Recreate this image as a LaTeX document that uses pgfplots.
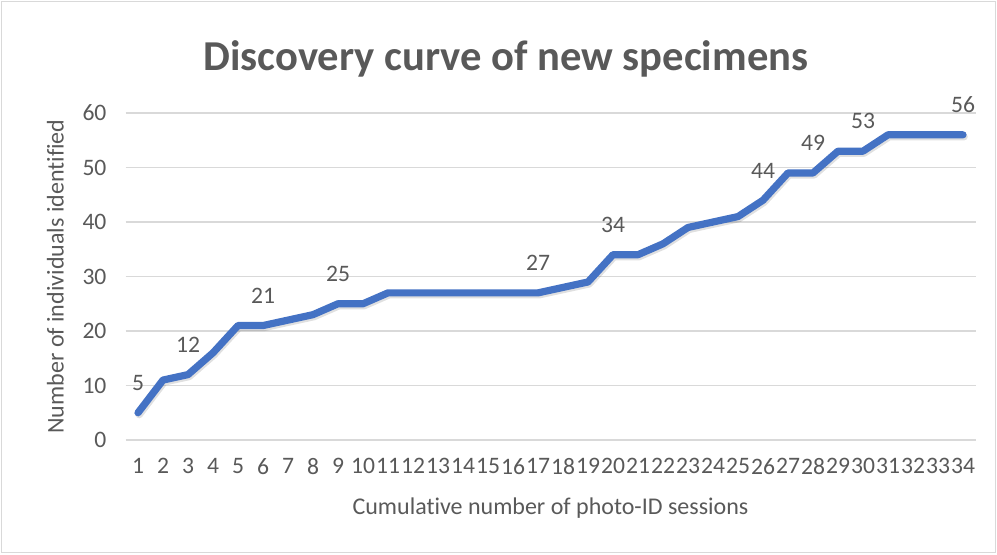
\documentclass[border=0pt]{standalone}
\usepackage{fontspec}
\setmainfont{Carlito}[Ligatures=CommonOff]
\usepackage{pgfplots}
\pgfplotsset{compat=1.18}
\usepackage{pgfplotstable}

\definecolor{txtgray}{HTML}{595959}
\definecolor{gridgray}{HTML}{D9D9D9}
\definecolor{curveblue}{HTML}{4472C4}

% Cumulative number of distinct individuals after each session
\pgfplotstableread{
session count
1 5
2 11
3 12
4 16
5 21
6 21
7 22
8 23
9 25
10 25
11 27
12 27
13 27
14 27
15 27
16 27
17 27
18 28
19 29
20 34
21 34
22 36
23 39
24 40
25 41
26 44
27 49
28 49
29 53
30 53
31 56
32 56
33 56
34 56
}\discovery

% Sessions whose value is printed above the curve
\pgfplotstableread{
session count
1 5
3 12
6 21
9 25
17 27
20 34
26 44
28 49
30 53
34 56
}\labelled

\begin{document}
\begin{tikzpicture}
\useasboundingbox (0pt,0pt) rectangle (498.5pt,277pt);
\draw[gridgray, line width=0.6pt] (0.75pt,0.75pt) rectangle (497.75pt,276.25pt);
\begin{axis}[
  at={(62.75pt,57pt)}, anchor=south west,
  scale only axis,
  width=425pt, height=163.5pt,
  xmin=0.5, xmax=34.5,
  ymin=0, ymax=60,
  xtick={1,...,34},
  ytick={0,10,...,60},
  ymajorgrids,
  grid style={gridgray, line width=0.6pt},
  axis line style={draw=none},
  tick style={draw=none},
  /pgf/number format/assume math mode=true,
  ticklabel style={font=\fontsize{11.8}{14}\selectfont, text=txtgray},
  yticklabel style={xshift=-6pt},
  xticklabel style={yshift=-5.5pt, inner xsep=0pt},
  title={\textbf{Discovery curve of new specimens}},
  title style={at={(axis description cs:0.4476,1.128)}, anchor=center,
    font=\fontsize{21.3}{24}\selectfont, text=txtgray},
  xlabel={Cumulative number of photo-ID sessions},
  xlabel style={at={(axis description cs:0.5,-0.208)}, anchor=center,
    font=\fontsize{12}{14}\selectfont, text=txtgray},
  ylabel={Number of individuals identified},
  ylabel style={at={(axis description cs:-0.0826,0.5)}, anchor=center, rotate=0,
    font=\fontsize{12}{14}\selectfont, text=txtgray},
  clip=false,
]
% soft drop shadow under the curve
\addplot[black, opacity=0.12, line width=3.6pt, line join=round, line cap=round,
  transform canvas={shift={(0.6pt,-1.0pt)}}]
  table[x=session, y=count] {\discovery};
\addplot[curveblue, line width=3.6pt, line join=round, line cap=round]
  table[x=session, y=count] {\discovery};
\addplot[draw=none, mark=none,
  nodes near coords,
  nodes near coords style={anchor=south, yshift=7.5pt,
    font=\fontsize{11.8}{14}\selectfont, text=txtgray}]
  table[x=session, y=count] {\labelled};
\end{axis}
\end{tikzpicture}
\end{document}
